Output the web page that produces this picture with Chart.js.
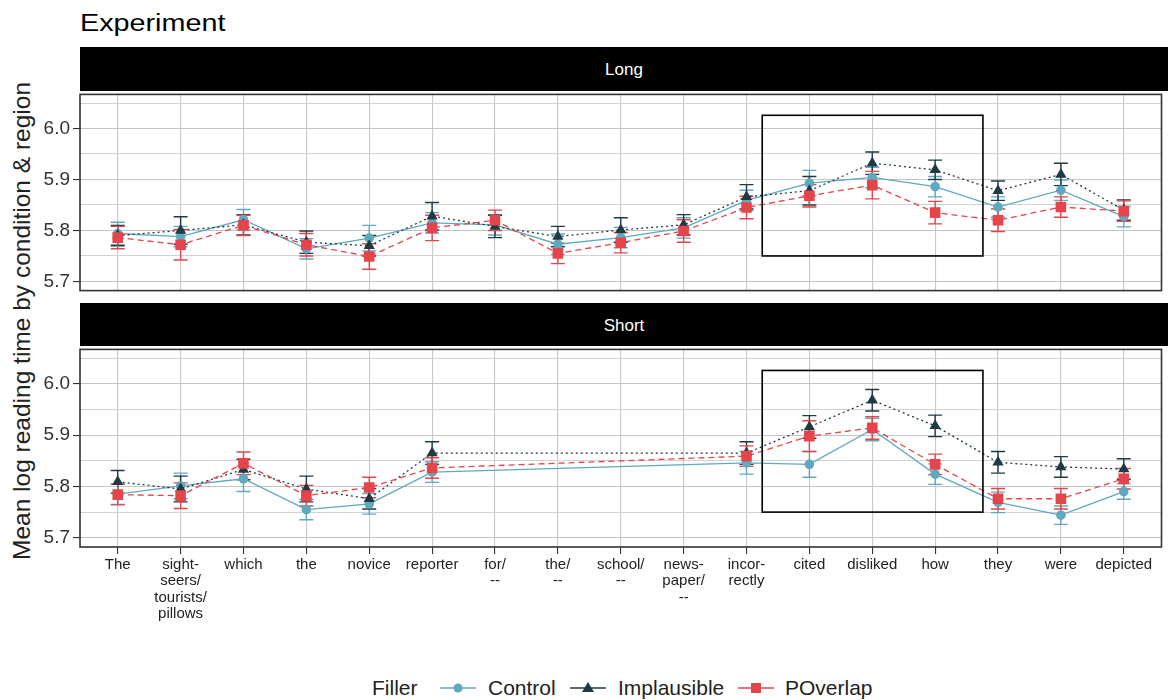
<!DOCTYPE html>
<html>
<head>
<meta charset="utf-8">
<title>Experiment</title>
<script src="https://cdn.jsdelivr.net/npm/chart.js@4.4.1/dist/chart.umd.min.js"></script>
<style>
  body { margin: 0; background: #fff; width: 1169px; height: 700px; position: relative; overflow: hidden;
         font-family: 'Liberation Sans', Arial, sans-serif; color: #000; }
  canvas { position: absolute; left: 0; }
  #title { position: absolute; left: 80px; top: 12px; font-size: 23px; line-height: 23px;
           transform: scaleX(1.25); transform-origin: left center; white-space: nowrap; }
  #yTitle { position: absolute; left: 22px; top: 321px; font-size: 24.5px; white-space: nowrap;
            transform: translate(-50%, -50%) rotate(-90deg); color: #222; }
  .strip { position: absolute; left: 80px; width: 1088px; background: #000; color: #fff;
           text-align: center; font-size: 17px; }
  .leg { position: absolute; top: 676px; line-height: 24px; font-size: 21px; color: #222; white-space: nowrap; }
  .key { position: absolute; top: 678px; }
</style>
</head>
<body>
<div id="title">Experiment</div>
<div id="yTitle">Mean log reading time by condition &amp; region</div>
<div class="strip" style="top:47px;height:44px;line-height:46px">Long</div>
<div class="strip" style="top:303px;height:43px;line-height:45px">Short</div>
<canvas id="longChart" width="1169" height="225" style="top:80px"></canvas>
<canvas id="shortChart" width="1169" height="290" style="top:335px"></canvas>

<div class="leg" style="left:372px">Filler</div>
<svg class="key" style="left:440px" width="36" height="20">
  <line x1="0" y1="10" x2="36" y2="10" stroke="#5fa9bf" stroke-width="1.5"/>
  <circle cx="18" cy="10" r="4.5" fill="#5fa9bf"/>
</svg>
<div class="leg" style="left:488px">Control</div>
<svg class="key" style="left:570px" width="36" height="20">
  <line x1="0" y1="10" x2="36" y2="10" stroke="#1f3a42" stroke-width="1.5"/>
  <polygon points="18,4 24,14 12,14" fill="#1f3a42"/>
</svg>
<div class="leg" style="left:618px">Implausible</div>
<svg class="key" style="left:738px" width="36" height="20">
  <line x1="0" y1="10" x2="36" y2="10" stroke="#e6444b" stroke-width="1.5"/>
  <rect x="13" y="5" width="10" height="10" fill="#e6444b"/>
</svg>
<div class="leg" style="left:785px">POverlap</div>

<script>
/* Regions (x axis) */
const regions = ['The', ['sight-', 'seers/', 'tourists/', 'pillows'], 'which', 'the', 'novice', 'reporter',
  ['for/', '--'], ['the/', '--'], ['school/', '--'], ['news-', 'paper/', '--'], ['incor-', 'rectly'],
  'cited', 'disliked', 'how', 'they', 'were', 'depicted'];

const fillers = ['Control', 'Implausible', 'POverlap'];

/* y axis ticks */
const yMajor = [5.7, 5.8, 5.9, 6.0];
const yMinor = [5.75, 5.85, 5.95, 6.05];

/* Long panel: means */
const longControl     = [5.794, 5.788, 5.821, 5.764, 5.785, 5.815, 5.811, 5.773, 5.786, 5.805, 5.859, 5.893, 5.904, 5.886, 5.846, 5.879, 5.827];
const longImplausible = [5.790, 5.800, 5.811, 5.777, 5.770, 5.828, 5.808, 5.788, 5.801, 5.811, 5.866, 5.878, 5.932, 5.919, 5.878, 5.910, 5.840];
const longPOverlap    = [5.786, 5.772, 5.810, 5.772, 5.749, 5.805, 5.820, 5.755, 5.776, 5.799, 5.845, 5.868, 5.889, 5.835, 5.820, 5.846, 5.838];
/* Long panel: error bar half widths */
const longControlErr     = [0.022, 0.020, 0.020, 0.020, 0.025, 0.020, 0.020, 0.020, 0.020, 0.020, 0.020, 0.025, 0.020, 0.020, 0.020, 0.020, 0.020];
const longImplausibleErr = [0.020, 0.027, 0.020, 0.022, 0.020, 0.027, 0.022, 0.020, 0.024, 0.020, 0.024, 0.028, 0.022, 0.019, 0.019, 0.022, 0.020];
const longPOverlapErr    = [0.022, 0.030, 0.020, 0.022, 0.025, 0.025, 0.020, 0.020, 0.020, 0.022, 0.022, 0.022, 0.027, 0.022, 0.022, 0.020, 0.020];

/* Short panel: means (no data for for/ the/ school/ newspaper/) */
const shortControl     = [5.785, 5.801, 5.815, 5.755, 5.766, 5.828, null, null, null, null, 5.846, 5.843, 5.911, 5.824, 5.769, 5.744, 5.790];
const shortImplausible = [5.809, 5.795, 5.833, 5.795, 5.776, 5.865, null, null, null, null, 5.865, 5.916, 5.968, 5.918, 5.847, 5.838, 5.834];
const shortPOverlap    = [5.784, 5.782, 5.845, 5.782, 5.798, 5.836, null, null, null, null, 5.859, 5.898, 5.914, 5.843, 5.776, 5.776, 5.815];
const shortControlErr     = [0.020, 0.025, 0.025, 0.020, 0.020, 0.020, null, null, null, null, 0.022, 0.025, 0.022, 0.020, 0.020, 0.018, 0.015];
const shortImplausibleErr = [0.022, 0.025, 0.020, 0.025, 0.020, 0.022, null, null, null, null, 0.022, 0.022, 0.021, 0.021, 0.021, 0.020, 0.020];
const shortPOverlapErr    = [0.020, 0.025, 0.022, 0.020, 0.020, 0.020, null, null, null, null, 0.020, 0.030, 0.022, 0.020, 0.020, 0.020, 0.020];

/* highlighted region box (x in region index units) */
const boxStart = 10.25, boxEnd = 13.76, boxLow = 5.75, boxHigh = 6.026;

const colors = ['#5fa9bf', '#1f3a42', '#e6444b'];
const dashes = [[], [2, 3], [6, 4]];
const shapes = ['circle', 'triangle', 'rect'];
const radii = [4.8, 6.5, 7.5];
const fontFamily = "'Liberation Sans', Arial, sans-serif";

const isMajor = v => yMajor.some(m => Math.abs(m - v) < 1e-6);

/* error bars under the lines */
const errorBars = {
    id: 'errorBars',
    beforeDatasetsDraw(chart) {
        const ctx = chart.ctx, y = chart.scales.y;
        chart.data.datasets.forEach((ds, i) => {
            const meta = chart.getDatasetMeta(i);
            ctx.save();
            ctx.setLineDash([]);
            ctx.strokeStyle = ds.borderColor;
            ctx.lineWidth = 1.4;
            meta.data.forEach((pt, j) => {
                const v = ds.data[j].y, e = ds.errors[j];
                if (v == null || e == null) return;
                const top = y.getPixelForValue(v + e), bot = y.getPixelForValue(v - e);
                ctx.beginPath();
                ctx.moveTo(pt.x, top); ctx.lineTo(pt.x, bot);
                ctx.moveTo(pt.x - 7, top); ctx.lineTo(pt.x + 7, top);
                ctx.moveTo(pt.x - 7, bot); ctx.lineTo(pt.x + 7, bot);
                ctx.stroke();
            });
            ctx.restore();
        });
    }
};

/* panel border + highlight box */
const panelDecor = {
    id: 'panelDecor',
    afterDatasetsDraw(chart) {
        const ctx = chart.ctx, a = chart.chartArea, x = chart.scales.x, y = chart.scales.y;
        ctx.save();
        ctx.setLineDash([]);
        ctx.strokeStyle = '#000';
        ctx.lineWidth = 1.6;
        const x0 = x.getPixelForValue(boxStart), x1 = x.getPixelForValue(boxEnd);
        const y0 = y.getPixelForValue(boxHigh), y1 = y.getPixelForValue(boxLow);
        ctx.strokeRect(x0, y0, x1 - x0, y1 - y0);
        ctx.strokeStyle = '#333';
        ctx.lineWidth = 1.6;
        ctx.strokeRect(a.left, a.top, a.right - a.left, a.bottom - a.top);
        ctx.restore();
    }
};

function makePanel(canvasId, series, errs, showLabels, padding, axisHeight) {
    new Chart(document.getElementById(canvasId), {
        type: 'line',
        data: {
            datasets: fillers.map((f, k) => ({
                label: f,
                data: regions.map((r, i) => ({ x: i, y: series[k][i] })),
                errors: errs[k],
                borderColor: colors[k],
                backgroundColor: colors[k],
                borderWidth: 1.3,
                borderDash: dashes[k],
                pointStyle: shapes[k],
                pointRadius: radii[k],
                pointBorderWidth: 0,
                spanGaps: true,
                tension: 0,
                order: 3 - k
            }))
        },
        options: {
            responsive: false,
            animation: false,
            events: [],
            layout: { padding: padding },
            plugins: { legend: { display: false }, tooltip: { enabled: false } },
            scales: {
                x: {
                    type: 'linear', min: -0.6, max: 16.6,
                    afterBuildTicks: s => { s.ticks = regions.map((r, i) => ({ value: i })); },
                    afterFit: s => { s.height = axisHeight; },
                    ticks: {
                        display: showLabels, autoSkip: false, maxRotation: 0, padding: 3,
                        callback: v => regions[v],
                        color: '#222',
                        font: { family: fontFamily, size: 15, lineHeight: 1.08 }
                    },
                    grid: { color: '#c8c8c8', lineWidth: 1.1, drawTicks: showLabels, tickLength: 7, tickColor: '#333' },
                    border: { display: false }
                },
                y: {
                    type: 'linear', min: 5.682, max: 6.067,
                    afterBuildTicks: s => { s.ticks = yMajor.concat(yMinor).sort((a, b) => a - b).map(v => ({ value: v })); },
                    afterFit: s => { s.width = 80; },
                    ticks: {
                        autoSkip: false, padding: 3,
                        callback: v => isMajor(v) ? v.toFixed(1) : '',
                        color: '#333',
                        font: { family: fontFamily, size: 19 }
                    },
                    grid: {
                        color: c => isMajor(c.tick.value) ? '#c4c4c4' : '#d2d2d2',
                        lineWidth: 1.1,
                        tickLength: 7,
                        tickColor: c => isMajor(c.tick.value) ? '#333' : 'rgba(0,0,0,0)'
                    },
                    border: { display: false }
                }
            }
        },
        plugins: [errorBars, panelDecor]
    });
}

makePanel('longChart',
    [longControl, longImplausible, longPOverlap],
    [longControlErr, longImplausibleErr, longPOverlapErr],
    false, { top: 11, right: 1, bottom: 13.5, left: 0 }, 0);

makePanel('shortChart',
    [shortControl, shortImplausible, shortPOverlap],
    [shortControlErr, shortImplausibleErr, shortPOverlapErr],
    true, { top: 11, right: 1, bottom: 0, left: 0 }, 78);
</script>
</body>
</html>
